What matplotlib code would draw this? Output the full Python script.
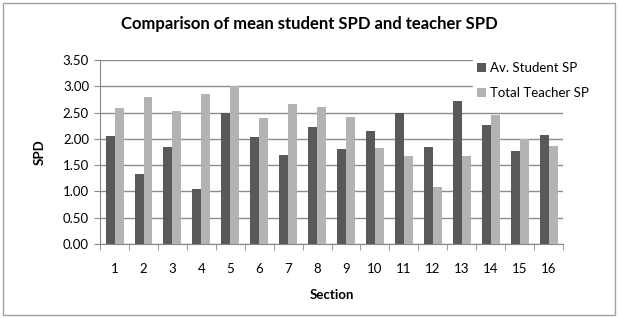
import numpy as np
import matplotlib.pyplot as plt
from matplotlib.patches import Rectangle

sections = [str(i) for i in range(1, 17)]
student_sp = [2.06, 1.33, 1.85, 1.04, 2.49, 2.03, 1.69, 2.23, 1.80, 2.15, 2.49, 1.84, 2.73, 2.26, 1.77, 2.08]
teacher_sp = [2.58, 2.80, 2.54, 2.85, 3.00, 2.39, 2.66, 2.61, 2.42, 1.82, 1.67, 1.08, 1.67, 2.45, 2.00, 1.87]

plt.rcParams['font.family'] = ['Lato', 'DejaVu Sans']

fig = plt.figure(figsize=(6.18, 3.18), dpi=100)
fig.patches.append(Rectangle((0.005, 0.01), 0.99, 0.98, transform=fig.transFigure,
                             fill=False, edgecolor='#a0a0a0', linewidth=1))
ax = fig.add_axes([0.162, 0.233, 0.749, 0.578])

x = np.arange(len(sections))
w = 0.31
ax.bar(x - w / 2, student_sp, w, color='#595959', label='Av. Student SP', zorder=3)
ax.bar(x + w / 2, teacher_sp, w, color='#b3b3b3', label='Total Teacher SP', zorder=3)

ax.set_xlim(-0.5, len(sections) - 0.5)
ax.set_ylim(0, 3.5)
ax.set_yticks(np.arange(0, 3.51, 0.5))
ax.set_yticklabels(['%.2f' % v for v in np.arange(0, 3.51, 0.5)])
ax.set_xticks(x)
ax.set_xticklabels(sections)
ax.set_xticks(np.arange(-0.5, len(sections), 1), minor=True)
ax.tick_params(axis='x', which='major', length=0, pad=14, labelsize=9.5)
ax.tick_params(axis='x', which='minor', length=4, color='#888888')
ax.tick_params(axis='y', length=4, color='#888888', labelsize=9.5, pad=4)
ax.grid(axis='y', color='#8c8c8c', linewidth=1, zorder=0)
for s in ['top', 'right']:
    ax.spines[s].set_visible(False)
ax.spines['left'].set_color('#888888')
ax.spines['bottom'].set_color('#888888')

ax.set_xlabel('Section', fontweight='bold', fontsize=9.5, labelpad=10)
ax.set_ylabel('SPD', fontweight='bold', fontsize=9.5, labelpad=12)
fig.suptitle('Comparison of mean student SPD and teacher SPD', fontweight='bold',
             fontsize=12, y=0.95)

leg = ax.legend(loc='upper left', bbox_to_anchor=(0.805, 1.01), frameon=True,
                fontsize=9.5, handlelength=0.7, handleheight=0.7, handletextpad=0.3,
                labelspacing=1.0, borderaxespad=0, borderpad=0.3, fancybox=False,
                framealpha=1)
leg.get_frame().set_edgecolor('white')
leg.set_zorder(5)

fig.savefig('out.png', dpi=100)
